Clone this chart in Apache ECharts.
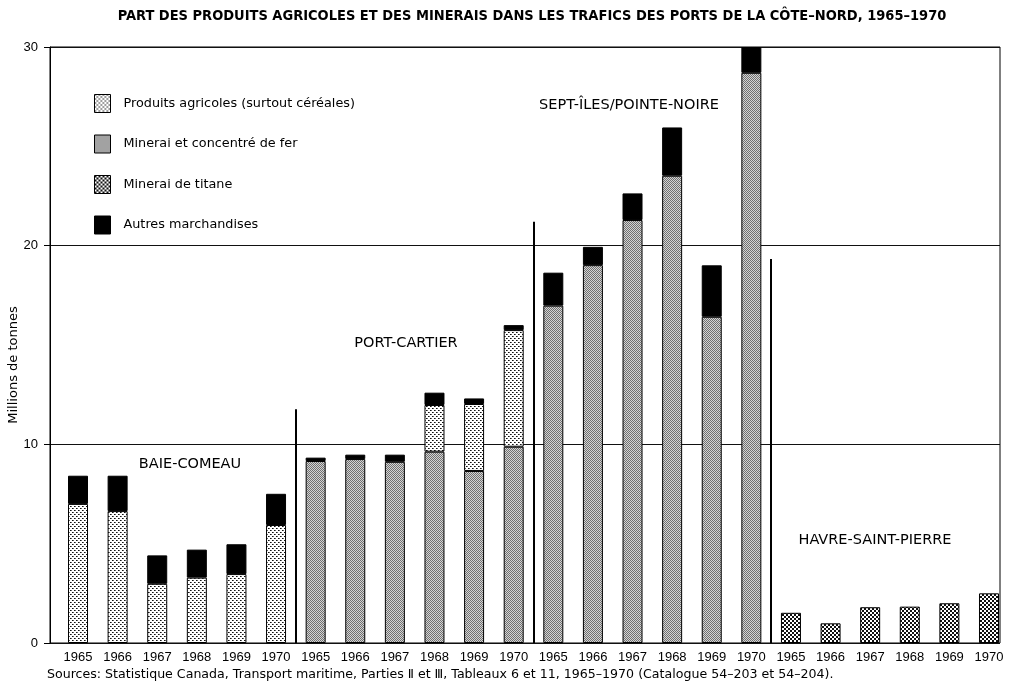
<!DOCTYPE html>
<html><head><meta charset="utf-8">
<script src="https://cdn.jsdelivr.net/npm/echarts@6/dist/echarts.min.js"></script>
<style>html,body{margin:0;padding:0;background:#fff}#c{width:1010px;height:686px}</style>
</head><body><div id="c"></div>
<script>
// ---- data ----
const years = ['1965','1966','1967','1968','1969','1970','1965','1966','1967','1968','1969','1970',
               '1965','1966','1967','1968','1969','1970','1965','1966','1967','1968','1969','1970'];
const ports = ['BAIE-COMEAU','PORT-CARTIER','SEPT-ÎLES/POINTE-NOIRE','HAVRE-SAINT-PIERRE'];
const seriesNames = ['Produits agricoles (surtout céréales)','Minerai et concentré de fer','Minerai de titane','Autres marchandises'];
const agricole = [7.0,6.64,2.98,3.29,3.47,5.94, null,null,null,2.35,3.37,5.87, null,null,null,null,null,null, null,null,null,null,null,null];
const fer      = [null,null,null,null,null,null, 9.16,9.26,9.12,9.63,8.66,9.88, 16.98,19.02,21.29,23.52,16.42,28.70, null,null,null,null,null,null];
const titane   = [null,null,null,null,null,null, null,null,null,null,null,null, null,null,null,null,null,null, 1.52,0.99,1.80,1.83,2.00,2.50];
const autres   = [1.42,1.78,1.43,1.41,1.50,1.57, 0.17,0.22,0.36,0.62,0.28,0.25, 1.66,0.92,1.34,2.43,2.59,1.30, null,null,null,null,null,null];
const yTicks = [0,10,20,30];
const separatorAt = [5.5, 11.5, 17.5];      // between port groups (category index)
const separatorTop = [11.76, 21.2, 19.33];  // height of separator lines (Mt)
const title = 'PART DES PRODUITS AGRICOLES ET DES MINERAIS DANS LES TRAFICS DES PORTS DE LA CÔTE–NORD, 1965–1970';
const yName = 'Millions de tonnes';
const source = 'Sources: Statistique Canada, Transport maritime, Parties Ⅱ et Ⅲ, Tableaux 6 et 11, 1965–1970 (Catalogue 54–203 et 54–204).';

// ---- patterns ----
function pat(size, draw){ const c=document.createElement('canvas'); c.width=size; c.height=size; const g=c.getContext('2d'); draw(g,size); return {image:c, repeat:'repeat'}; }
const pAgri = pat(4,(g)=>{g.fillStyle='#fff';g.fillRect(0,0,4,4);g.fillStyle='#111';g.fillRect(0,0,1,1);g.fillRect(2,2,1,1);g.fillStyle='#666';g.fillRect(1,0,1,1);g.fillRect(3,2,1,1);});
const pFer = pat(2,(g)=>{g.fillStyle='#d4d4d4';g.fillRect(0,0,2,2);g.fillStyle='#707070';g.fillRect(0,0,1,1);g.fillRect(1,1,1,1);});
const pTit = pat(4,(g)=>{g.fillStyle='#fff';g.fillRect(0,0,4,4);g.fillStyle='#111';g.fillRect(0,0,2,2);g.fillRect(2,2,2,2);});

const FONT_N = '"Liberation Sans Narrow", "Liberation Sans", sans-serif';
const FONT_C = '"DejaVu Sans Condensed", "DejaVu Sans", sans-serif';
const FONT_D = '"DejaVu Sans", sans-serif';

function barSeries(name, data, color){
  return {
    name, type:'bar', stack:'t', data, barWidth:20, xAxisIndex:0, yAxisIndex:0,
    itemStyle:{color, borderColor:'#000', borderWidth:1}, z:3
  };
}

const chart = echarts.init(document.getElementById('c'), null, {renderer:'canvas'});
const minX = -0.707, maxX = 23.283;
chart.setOption({
  animation:false,
  backgroundColor:'#fff',
  legend:{
    orient:'vertical', left:89, top:89, itemWidth:16, itemHeight:18, itemGap:21.5, icon:'rect',
    data:seriesNames, selectedMode:false,
    textStyle:{fontFamily:FONT_D, fontSize:12.8, color:'#000', padding:[0,0,0,8]},
    itemStyle:{borderColor:'#000', borderWidth:1}
  },
  grid:[
    {left:58.2, right:1.2, top:47, bottom:43},
    {left:50, right:10, top:47, bottom:43, show:true, borderColor:'#000', borderWidth:1, backgroundColor:'transparent'}
  ],
  xAxis:[
    {type:'category', gridIndex:0, data:years, axisLine:{show:false}, axisTick:{show:false},
     axisLabel:{fontFamily:FONT_N, fontSize:13, color:'#000', margin:8, interval:0}},
    {type:'value', gridIndex:1, min:minX, max:maxX, show:false}
  ],
  yAxis:[
    {type:'value', gridIndex:0, min:0, max:30, interval:10, show:false},
    {type:'value', gridIndex:1, min:0, max:30, interval:10,
     axisLine:{show:true, onZero:false, lineStyle:{color:'#000'}},
     axisTick:{show:true, length:6, lineStyle:{color:'#000'}},
     axisLabel:{fontFamily:FONT_N, fontSize:13, color:'#000', margin:12,
       formatter:(v)=> yTicks.indexOf(v)>=0 ? String(v) : ''},
     splitLine:{show:true, lineStyle:{color:'#111', width:1}}}
  ],
  series:[
    barSeries(seriesNames[1], fer, pFer),
    barSeries(seriesNames[0], agricole, pAgri),
    barSeries(seriesNames[2], titane, pTit),
    barSeries(seriesNames[3], autres, '#000'),
    {type:'line', xAxisIndex:1, yAxisIndex:1, data:[], silent:true,
     markLine:{symbol:'none', silent:true, label:{show:false},
       lineStyle:{color:'#000', width:2, type:'solid'},
       data: separatorAt.map((x,i)=>[{coord:[x,0]},{coord:[x,separatorTop[i]]}])}}
  ],
  graphic:[
    {type:'text', x:532, y:16, style:{text:title, font:'bold 14.5px '+FONT_C, fill:'#000', align:'center', verticalAlign:'middle'}},
    {type:'text', left:47, top:668, style:{text:source, font:'12.6px '+FONT_D, fill:'#000'}},
    {type:'text', x:14, y:365, rotation:Math.PI/2, style:{text:yName, font:'13px '+FONT_D, fill:'#000', align:'center', verticalAlign:'middle'}},
    {type:'text', x:190, y:464, style:{text:ports[0], font:'14.5px '+FONT_D, fill:'#000', align:'center', verticalAlign:'middle'}},
    {type:'text', x:406, y:343, style:{text:ports[1], font:'14.5px '+FONT_D, fill:'#000', align:'center', verticalAlign:'middle'}},
    {type:'text', x:629, y:105, style:{text:ports[2], font:'14.5px '+FONT_D, fill:'#000', align:'center', verticalAlign:'middle'}},
    {type:'text', x:875, y:540, style:{text:ports[3], font:'14.5px '+FONT_D, fill:'#000', align:'center', verticalAlign:'middle'}}
  ]
});
</script></body></html>
